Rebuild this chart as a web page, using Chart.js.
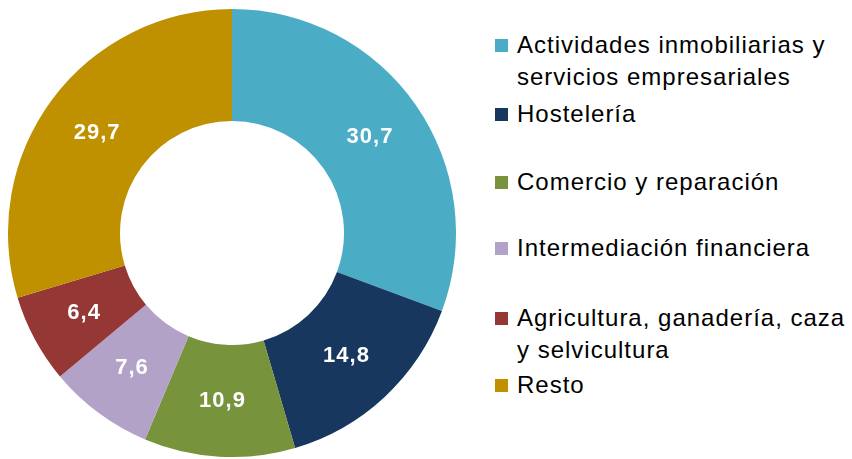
<!DOCTYPE html>
<html>
<head>
<meta charset="utf-8">
<script src="https://cdn.jsdelivr.net/npm/chart.js@4/dist/chart.umd.min.js"></script>
<style>
  html, body { margin: 0; padding: 0; background: #ffffff; }
  #wrap { position: relative; width: 852px; height: 459px; overflow: hidden; }
  #chartBox { position: absolute; left: 8px; top: 9px; width: 448px; height: 448px; }
  .leg { position: absolute; left: 495px; width: 357px; font-family: "Liberation Sans", Arial, sans-serif;
         font-size: 24px; line-height: 32px; letter-spacing: 1px; color: #000; }
  .leg .sw { position: absolute; left: 0; top: 10px; width: 13px; height: 13px; }
  .leg .tx { margin-left: 22px; display: block; }
</style>
</head>
<body>
<div id="wrap">
  <div id="chartBox"><canvas id="donut" width="448" height="448"></canvas></div>
  <div id="legend"></div>
</div>
<script>
// Sector shares (%), clockwise from 12 o'clock
const categories = [
    'Actividades inmobiliarias y servicios empresariales',
    'Hostelería',
    'Comercio y reparación',
    'Intermediación financiera',
    'Agricultura, ganadería, caza y selvicultura',
    'Resto'
];
const values = [30.7, 14.8, 10.9, 7.6, 6.4, 29.7];
const colors = ['#4BACC6', '#17375E', '#77933C', '#B3A2C7', '#953735', '#BF9000'];

// legend row tops (layout only)
const legendTops = [29, 98, 166, 232, 302, 369];

// HTML legend
const legendEl = document.getElementById('legend');
categories.forEach(function(name, i) {
    const item = document.createElement('div');
    item.className = 'leg';
    item.style.top = legendTops[i] + 'px';
    const sw = document.createElement('span');
    sw.className = 'sw';
    sw.style.background = colors[i];
    const tx = document.createElement('span');
    tx.className = 'tx';
    tx.textContent = name;
    item.appendChild(sw);
    item.appendChild(tx);
    legendEl.appendChild(item);
});

// draws the value on each slice, comma as decimal separator
const sliceLabels = {
    id: 'sliceLabels',
    afterDatasetsDraw(chart) {
        const ctx = chart.ctx;
        const meta = chart.getDatasetMeta(0);
        ctx.save();
        ctx.fillStyle = '#ffffff';
        ctx.font = 'bold 22px "Liberation Sans", Arial, sans-serif';
        ctx.letterSpacing = '1px';
        ctx.textAlign = 'center';
        ctx.textBaseline = 'middle';
        meta.data.forEach(function(arc, i) {
            const p = arc.tooltipPosition();
            ctx.fillText(values[i].toFixed(1).replace('.', ','), p.x, p.y);
        });
        ctx.restore();
    }
};

new Chart(document.getElementById('donut'), {
    type: 'doughnut',
    data: {
        labels: categories,
        datasets: [{
            data: values,
            backgroundColor: colors,
            borderWidth: 0
        }]
    },
    options: {
        responsive: false,
        animation: false,
        cutout: '50%',
        layout: { padding: 0 },
        plugins: {
            legend: { display: false },
            tooltip: { enabled: false }
        }
    },
    plugins: [sliceLabels]
});
</script>
</body>
</html>
